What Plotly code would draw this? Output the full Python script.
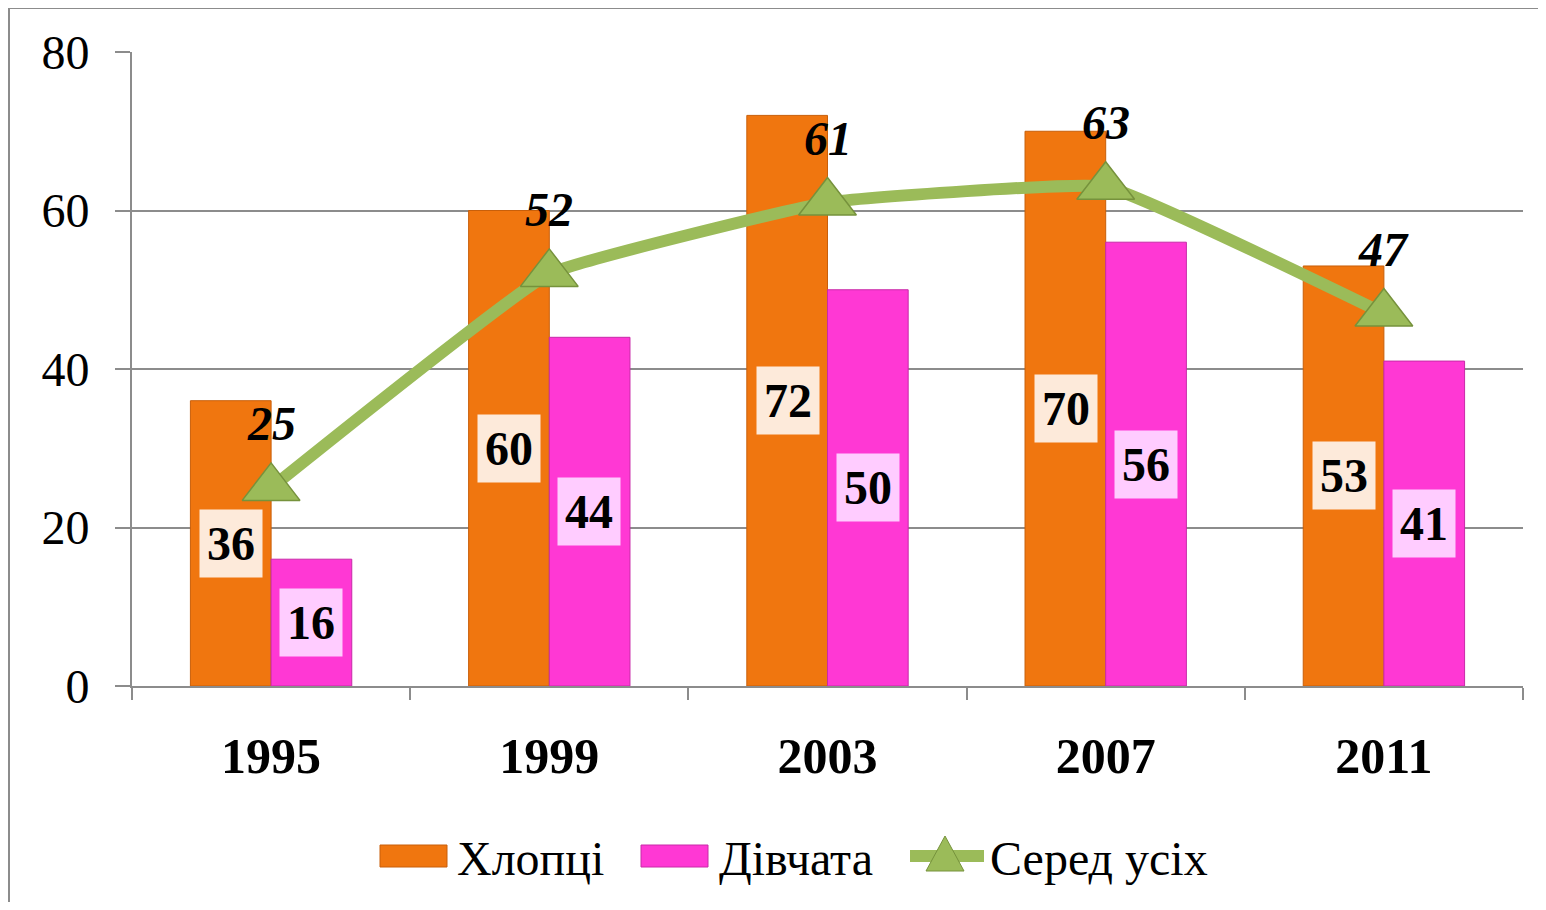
import plotly.graph_objects as go

years = ["1995", "1999", "2003", "2007", "2011"]
boys = [36, 60, 72, 70, 53]
girls = [16, 44, 50, 56, 41]
overall = [25, 52, 61, 63, 47]
series_names = ["Хлопці", "Дівчата", "Серед усіх"]
y_ticks = [0, 20, 40, 60, 80]

OFF = 8  # page body margin
W, H = 1530, 894
L, R, T, B = 124, 15, 44, 216
PW, PH = W - L - R, H - T - B

def px(x):  # screen x -> paper x
    return (x - OFF - L) / PW

def py(y):  # screen y -> paper y
    return (H - B - (y - OFF)) / PH

FONT = "Liberation Serif, Times New Roman, serif"
ORANGE = "#F0760F"
PINK = "#FF38D4"
GREEN = "#9BBB59"
GRID = "#8C8C8C"

fig = go.Figure()
fig.add_trace(go.Bar(x=years, y=boys, name=series_names[0], marker=dict(color=ORANGE, line=dict(color="#C85F0A", width=1)), showlegend=False))
fig.add_trace(go.Bar(x=years, y=girls, name=series_names[1], marker=dict(color=PINK, line=dict(color="#C82AA8", width=1)), showlegend=False))
fig.add_trace(go.Scatter(x=years, y=overall, name=series_names[2], mode="lines+markers",
                         line=dict(color=GREEN, width=12, shape="spline", smoothing=0.3),
                         marker=dict(symbol="triangle-up", size=50, color=GREEN, line=dict(color="#76923C", width=1.5)),
                         showlegend=False))

annotations = []
for i, v in enumerate(boys):
    annotations.append(dict(x=i, y=v / 2, xref="x", yref="y", xshift=-40, text=f"<b>{v}</b>", showarrow=False,
                            font=dict(family=FONT, size=48, color="black"), bgcolor="#FDEADA", borderpad=7))
for i, v in enumerate(girls):
    annotations.append(dict(x=i, y=v / 2, xref="x", yref="y", xshift=40, text=f"<b>{v}</b>", showarrow=False,
                            font=dict(family=FONT, size=48, color="black"), bgcolor="#FFCCFF", borderpad=7))
for i, v in enumerate(overall):
    annotations.append(dict(x=i, y=v, xref="x", yref="y", yshift=64, text=f"<b><i>{v}</i></b>", showarrow=False,
                            font=dict(family=FONT, size=48, color="black")))

# custom legend
shapes = []
leg_y0, leg_y1 = 845, 867
shapes.append(dict(type="rect", xref="paper", yref="paper", x0=px(380), x1=px(447), y0=py(leg_y1), y1=py(leg_y0),
                   fillcolor=ORANGE, line=dict(color="#C85F0A", width=1)))
shapes.append(dict(type="rect", xref="paper", yref="paper", x0=px(641), x1=px(708), y0=py(leg_y1), y1=py(leg_y0),
                   fillcolor=PINK, line=dict(color="#C82AA8", width=1)))
shapes.append(dict(type="line", xref="paper", yref="paper", x0=px(910), x1=px(984), y0=py(856), y1=py(856),
                   line=dict(color=GREEN, width=12)))
tri = f"M {px(926)} {py(871)} L {px(964)} {py(871)} L {px(945)} {py(836)} Z"
shapes.append(dict(type="path", xref="paper", yref="paper", path=tri, fillcolor=GREEN, line=dict(color="#76923C", width=1)))
# outer frame
shapes.append(dict(type="rect", xref="paper", yref="paper", x0=px(9), x1=px(1700), y0=py(1000), y1=py(8),
                   line=dict(color=GRID, width=2), fillcolor="rgba(0,0,0,0)", layer="below"))

for xpos, name in [(455, series_names[0]), (717, series_names[1]), (988, series_names[2])]:
    annotations.append(dict(x=px(xpos), y=py(858), xref="paper", yref="paper", xanchor="left", yanchor="middle",
                            text=name, showarrow=False, font=dict(family=FONT, size=48, color="black")))

fig.update_layout(
    width=W, height=H,
    margin=dict(l=L, r=R, t=T, b=B),
    paper_bgcolor="white", plot_bgcolor="white",
    barmode="group", bargap=0.42, bargroupgap=0,
    annotations=annotations, shapes=shapes,
    font=dict(family=FONT, color="black"),
    xaxis=dict(type="category", range=[-0.5, 4.5], tickson="boundaries", ticks="outside", ticklen=12, tickcolor=GRID, tickwidth=2,
               showline=True, linecolor=GRID, linewidth=2, showgrid=False,
               tickfont=dict(family=FONT, size=50, color="black"), ticklabelstandoff=25, tickangle=0,
               tickvals=years, ticktext=[f"<b>{y}</b>" for y in years]),
    yaxis=dict(range=[0, 80], tickvals=y_ticks, ticks="outside", ticklen=15, tickcolor=GRID, tickwidth=2,
               showline=True, linecolor=GRID, linewidth=2, showgrid=True, gridcolor=GRID, gridwidth=2,
               zeroline=False, tickfont=dict(family=FONT, size=48, color="black"), ticklabelstandoff=16),
)

fig.write_html("out.html")
